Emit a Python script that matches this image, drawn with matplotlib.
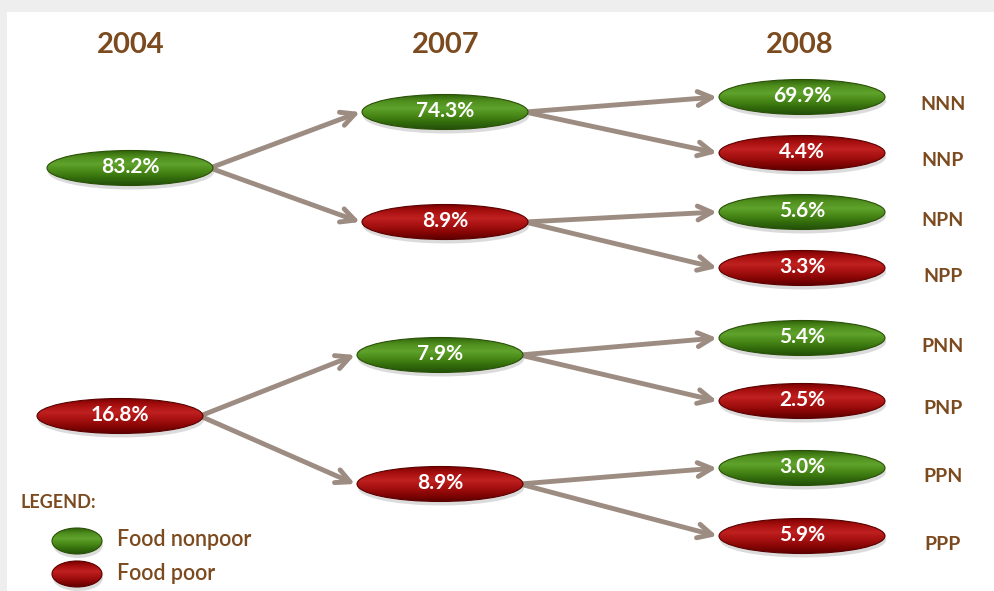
import numpy as np
import matplotlib
matplotlib.use("Agg")
import matplotlib.pyplot as plt
from matplotlib.patches import Ellipse, Rectangle
from matplotlib.colors import LinearSegmentedColormap

# ==========================
# Data
# ==========================
years = ["2004", "2007", "2008"]
share_2004 = [83.2, 16.8]                      # N, P
share_2007 = [74.3, 8.9, 7.9, 8.9]             # NN, NP, PN, PP
share_2008 = [69.9, 4.4, 5.6, 3.3, 5.4, 2.5, 3.0, 5.9]
paths_2008 = ["NNN", "NNP", "NPN", "NPP", "PNN", "PNP", "PPN", "PPP"]
status_2004 = ["N", "P"]
status_2007 = ["N", "P", "N", "P"]
status_2008 = ["N", "P", "N", "P", "N", "P", "N", "P"]

# ==========================
# Layout (pixel space)
# ==========================
W, H = 994, 591
col_x = [128, 445, 802]
year_x = [131, 446, 800]
y_2004 = [168, 416]
x_2004 = [130, 120]
y_2007 = [112, 222, 355, 484]
x_2007 = [445, 445, 440, 440]
y_2008 = [97, 153, 212, 268, 338, 401, 468, 536]
ew, eh = 166, 35

brown = "#7b4a1e"
arrow_col = "#9d8c82"
font = ["Lato", "DejaVu Sans"]

cmaps = {
    "N": LinearSegmentedColormap.from_list(
        "g", ["#2f6208", "#4f8f1e", "#5fa22c", "#4a8a18", "#346e0c", "#25520a"]),
    "P": LinearSegmentedColormap.from_list(
        "r", ["#7a0000", "#a81010", "#c02020", "#a81212", "#8a0606", "#600000"]),
}

fig = plt.figure(figsize=(W / 100, H / 100), dpi=100)
fig.patch.set_facecolor("#eeeeee")
ax = fig.add_axes([0, 0, 1, 1])
ax.set_xlim(0, W)
ax.set_ylim(H, 0)
ax.axis("off")
ax.add_patch(Rectangle((7, 12), W, H, facecolor="white", edgecolor="none", zorder=0))

grad = np.linspace(0, 1, 64).reshape(-1, 1)


def node(x, y, status, text, w=ew, h=eh, size=15):
    sh = Ellipse((x + 1, y + 4), w, h, facecolor="#999999", edgecolor="none",
                 alpha=0.35, zorder=2)
    ax.add_patch(sh)
    e = Ellipse((x, y), w, h, facecolor="none", edgecolor="none", zorder=3)
    ax.add_patch(e)
    im = ax.imshow(grad, cmap=cmaps[status], aspect="auto",
                   extent=(x - w / 2, x + w / 2, y + h / 2, y - h / 2), zorder=3)
    im.set_clip_path(e)
    edge = Ellipse((x, y), w, h, facecolor="none",
                   edgecolor="#2a5008" if status == "N" else "#5a0000",
                   lw=0.8, zorder=4)
    ax.add_patch(edge)
    if text:
        ax.text(x, y - 1, text, color="white", fontsize=size, fontweight="bold",
                ha="center", va="center", family=font, zorder=5)


def arrow(x0, y0, x1, y1):
    ax.annotate("", xy=(x1, y1), xytext=(x0, y0), zorder=1,
                arrowprops=dict(arrowstyle="->,head_length=1.0,head_width=0.5",
                                color=arrow_col, lw=3.5, shrinkA=0, shrinkB=0))


# year headers
for x, yr in zip(year_x, years):
    ax.text(x, 45, yr, color=brown, fontsize=21, fontweight="bold",
            ha="center", va="center", family=font)

# arrows
for i in range(2):
    for j in range(2):
        k = 2 * i + j
        arrow(x_2004[i] + ew / 2 - 3, y_2004[i], x_2007[k] - ew / 2 - 2, y_2007[k])
for k in range(4):
    for j in range(2):
        m = 2 * k + j
        arrow(x_2007[k] + ew / 2 - 3, y_2007[k], col_x[2] - ew / 2 - 2, y_2008[m])

# nodes
for i in range(2):
    node(x_2004[i], y_2004[i], status_2004[i], f"{share_2004[i]:.1f}%")
for k in range(4):
    node(x_2007[k], y_2007[k], status_2007[k], f"{share_2007[k]:.1f}%")
for m in range(8):
    node(col_x[2], y_2008[m], status_2008[m], f"{share_2008[m]:.1f}%")
    ax.text(943, y_2008[m] + 8, paths_2008[m], color=brown, fontsize=14,
            fontweight="bold", ha="center", va="center", family=font)

# legend
ax.text(20, 503, "LEGEND:", color=brown, fontsize=13, fontweight="bold",
        ha="left", va="center", family=font)
node(77, 541, "N", "", w=50, h=26)
node(77, 574, "P", "", w=50, h=26)
ax.text(117, 539, "Food nonpoor", color=brown, fontsize=15.5, fontweight="semibold",
        ha="left", va="center", family=font)
ax.text(117, 573, "Food poor", color=brown, fontsize=15.5, fontweight="semibold",
        ha="left", va="center", family=font)

fig.savefig("out.png", dpi=100)
